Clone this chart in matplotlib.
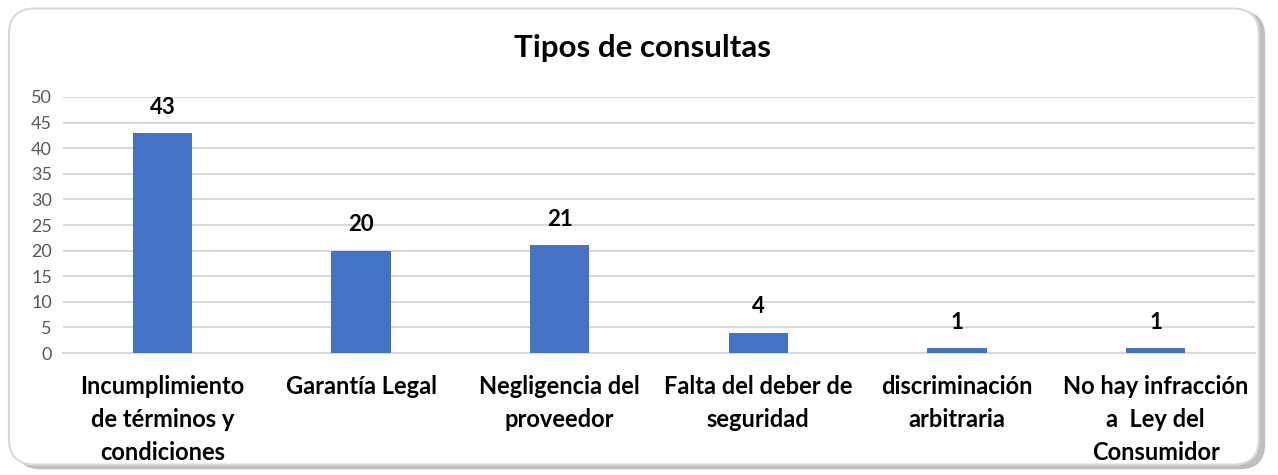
import matplotlib.pyplot as plt
from matplotlib.patches import FancyBboxPatch

categories = ['Incumplimiento\nde términos y\ncondiciones', 'Garantía Legal',
              'Negligencia del\nproveedor', 'Falta del deber de\nseguridad',
              'discriminación\narbitraria', 'No hay infracción\na  Ley del\nConsumidor']
values = [43, 20, 21, 4, 1, 1]
title = 'Tipos de consultas'

plt.rcParams['font.family'] = ['Lato', 'DejaVu Sans']

fig = plt.figure(figsize=(12.78, 4.75), dpi=100)

# rounded frame with a soft shadow (kept behind the axes)
shadow = FancyBboxPatch((0.012, 0.012), 0.978, 0.965, boxstyle='round,pad=0,rounding_size=0.02',
                        transform=fig.transFigure, facecolor='#bfbfbf', edgecolor='none',
                        mutation_aspect=12.78 / 4.75, zorder=-3)
frame = FancyBboxPatch((0.007, 0.022), 0.978, 0.96, boxstyle='round,pad=0,rounding_size=0.02',
                       transform=fig.transFigure, facecolor='white', edgecolor='#d9d9d9',
                       linewidth=1.5, mutation_aspect=12.78 / 4.75, zorder=-2)
fig.patches.extend([shadow, frame])

ax = fig.add_axes([0.0493, 0.2568, 0.9327, 0.539])
ax.set_facecolor('none')
x = range(len(categories))
bars = ax.bar(x, values, width=0.3, color='#4472c4', zorder=3)
ax.set_xlim(-0.5, len(categories) - 0.5)
ax.set_ylim(0, 50)
ax.set_yticks(range(0, 51, 5))
ax.yaxis.grid(True, color='#d9d9d9', linewidth=1.5, zorder=0)
ax.set_axisbelow(True)
for s in ['top', 'right', 'left']:
    ax.spines[s].set_visible(False)
ax.spines['bottom'].set_color('#d9d9d9')
ax.spines['bottom'].set_linewidth(1.5)
ax.tick_params(axis='y', length=0, labelsize=13, labelcolor='#595959', pad=8)
ax.tick_params(axis='x', length=0, pad=16)
ax.set_xticks(list(x))
ax.set_xticklabels(categories, fontsize=17, fontweight='bold', linespacing=1.52, va='top')

for b, v in zip(bars, values):
    ax.annotate(str(v), (b.get_x() + b.get_width() / 2, v), xytext=(0, 11),
                textcoords='offset points', ha='center', va='bottom',
                fontsize=16, fontweight='bold')

fig.text(0.503, 0.9, title, ha='center', va='center', fontsize=22.5, fontweight='bold')

fig.savefig('out.png', dpi=100)
